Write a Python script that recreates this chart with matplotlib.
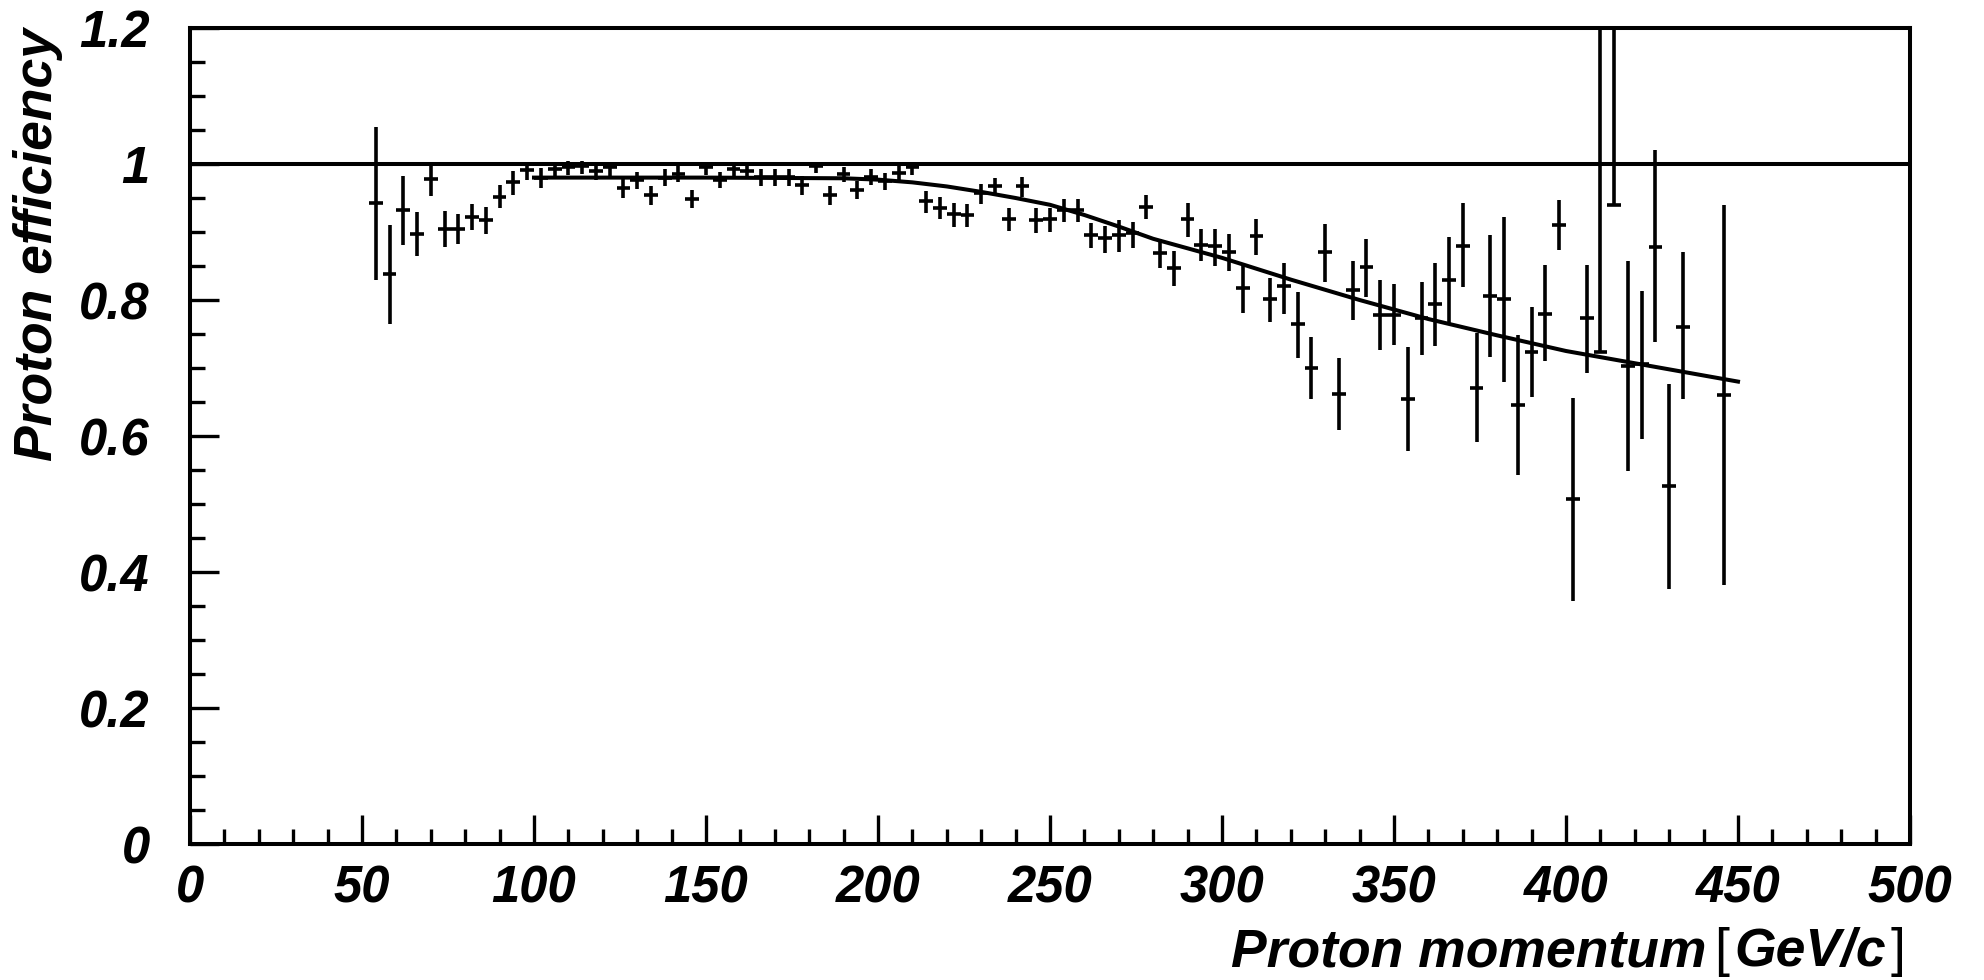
import matplotlib
matplotlib.use("Agg")
import matplotlib.pyplot as plt
from matplotlib.ticker import FixedLocator, MultipleLocator

# ---- measured efficiency per momentum bin (GeV/c) ----
bin_width = 4.0
momentum = [54, 58, 62, 66, 70, 74, 78, 82, 86, 90, 94, 98, 102, 106, 110, 114,
            118, 122, 126, 130, 134, 138, 142, 146, 150, 154, 158, 162, 166, 170,
            174, 178, 182, 186, 190, 194, 198, 202, 206, 210, 214, 218, 222, 226,
            230, 234, 238, 242, 246, 250, 254, 258, 262, 266, 270, 274, 278, 282,
            286, 290, 294, 298, 302, 306, 310, 314, 318, 322, 326, 330, 334, 338,
            342, 346, 350, 354, 358, 362, 366, 370, 374, 378, 382, 386, 390, 394,
            398, 402, 406, 410, 414, 418, 422, 426, 430, 434, 446]
efficiency = [0.942, 0.838, 0.932, 0.897, 0.978, 0.905, 0.905, 0.922, 0.918, 0.952,
              0.973, 0.991, 0.979, 0.992, 0.996, 0.997, 0.989, 0.995, 0.965, 0.976,
              0.954, 0.980, 0.986, 0.949, 0.995, 0.976, 0.992, 0.990, 0.981, 0.981,
              0.981, 0.969, 0.997, 0.954, 0.985, 0.962, 0.981, 0.975, 0.987, 0.995,
              0.945, 0.936, 0.926, 0.925, 0.957, 0.967, 0.919, 0.967, 0.918, 0.919,
              0.932, 0.932, 0.896, 0.891, 0.896, 0.898, 0.937, 0.869, 0.847, 0.919,
              0.881, 0.879, 0.870, 0.818, 0.894, 0.801, 0.820, 0.764, 0.700, 0.870,
              0.662, 0.814, 0.848, 0.778, 0.778, 0.655, 0.773, 0.794, 0.829, 0.880,
              0.671, 0.806, 0.801, 0.645, 0.724, 0.780, 0.911, 0.507, 0.773, 0.724,
              0.939, 0.703, 0.706, 0.878, 0.527, 0.761, 0.660]
err_low = [0.113, 0.074, 0.051, 0.033, 0.025, 0.027, 0.022, 0.019, 0.021, 0.017,
           0.018, 0.014, 0.015, 0.014, 0.012, 0.012, 0.013, 0.012, 0.015, 0.013,
           0.014, 0.012, 0.012, 0.014, 0.011, 0.012, 0.012, 0.012, 0.013, 0.013,
           0.013, 0.014, 0.010, 0.014, 0.012, 0.014, 0.012, 0.013, 0.012, 0.011,
           0.017, 0.017, 0.018, 0.018, 0.016, 0.014, 0.018, 0.016, 0.019, 0.019,
           0.018, 0.018, 0.020, 0.022, 0.025, 0.022, 0.018, 0.022, 0.026, 0.026,
           0.023, 0.029, 0.027, 0.037, 0.028, 0.034, 0.040, 0.050, 0.046, 0.043,
           0.053, 0.043, 0.043, 0.052, 0.044, 0.077, 0.054, 0.062, 0.063, 0.061,
           0.080, 0.090, 0.122, 0.103, 0.066, 0.069, 0.038, 0.150, 0.081, 0.000,
           0.000, 0.154, 0.110, 0.140, 0.152, 0.107, 0.279]
err_high = [0.112, 0.072, 0.051, 0.033, 0.024, 0.026, 0.021, 0.019, 0.019, 0.017,
            0.016, 0.012, 0.015, 0.011, 0.008, 0.007, 0.011, 0.008, 0.013, 0.012,
            0.013, 0.012, 0.011, 0.013, 0.005, 0.012, 0.008, 0.009, 0.012, 0.012,
            0.012, 0.013, 0.003, 0.013, 0.011, 0.013, 0.011, 0.012, 0.010, 0.005,
            0.015, 0.015, 0.016, 0.016, 0.014, 0.013, 0.016, 0.014, 0.017, 0.016,
            0.016, 0.016, 0.017, 0.018, 0.022, 0.017, 0.017, 0.020, 0.025, 0.024,
            0.023, 0.026, 0.027, 0.035, 0.025, 0.032, 0.035, 0.048, 0.046, 0.042,
            0.052, 0.043, 0.042, 0.051, 0.046, 0.076, 0.054, 0.060, 0.063, 0.063,
            0.081, 0.090, 0.121, 0.103, 0.065, 0.071, 0.036, 0.149, 0.078, 0.600,
            0.400, 0.154, 0.107, 0.142, 0.150, 0.109, 0.279]

# ---- fitted efficiency curve ----
fit_momentum = [100, 150, 190, 200, 210, 220, 230, 240, 250, 260, 270, 280, 290,
                300, 320, 340, 360, 380, 400, 420, 450]
fit_efficiency = [0.980, 0.980, 0.979, 0.977, 0.973, 0.967, 0.959, 0.950, 0.940,
                  0.925, 0.908, 0.890, 0.876, 0.862, 0.830, 0.800, 0.772, 0.748,
                  0.725, 0.707, 0.680]

x_ticks = [0, 50, 100, 150, 200, 250, 300, 350, 400, 450, 500]
x_tick_labels = ["0", "50", "100", "150", "200", "250", "300", "350", "400", "450", "500"]
y_ticks = [0, 0.2, 0.4, 0.6, 0.8, 1.0, 1.2]
y_tick_labels = ["0", "0.2", "0.4", "0.6", "0.8", "1", "1.2"]

FONT = "Liberation Sans"
FS = 36.5
FS_TITLE = 38.5
W, H = 1984, 980

fig = plt.figure(figsize=(W / 100, H / 100), dpi=100)
ax = fig.add_axes([190 / W, 136 / H, 1720 / W, 816 / H])
ax.set_xlim(0, 500)
ax.set_ylim(0, 1.2)

ax.axhline(1.0, color="black", lw=2.9, zorder=2)
ax.plot(fit_momentum, fit_efficiency, color="black", lw=2.9, zorder=2)
ax.errorbar(momentum, efficiency, xerr=bin_width / 2, yerr=[err_low, err_high],
            fmt="none", ecolor="black", elinewidth=2.6, capsize=0, zorder=3)

for s in ax.spines.values():
    s.set_linewidth(2.9)

ax.xaxis.set_major_locator(FixedLocator(x_ticks))
ax.xaxis.set_minor_locator(MultipleLocator(10))
ax.yaxis.set_major_locator(FixedLocator(y_ticks))
ax.yaxis.set_minor_locator(MultipleLocator(0.05))
ax.set_xticklabels(x_tick_labels)
ax.set_yticklabels(y_tick_labels)
ax.tick_params(which="both", direction="in", top=False, right=False, width=2.4)
ax.tick_params(which="major", length=21)
ax.tick_params(which="minor", length=10.5)
ax.tick_params(axis="x", which="major", pad=15)
ax.tick_params(axis="y", which="major", pad=29)
for lab in ax.get_xticklabels() + ax.get_yticklabels():
    lab.set_fontfamily(FONT)
    lab.set_fontsize(FS)
    lab.set_fontweight("bold")
    lab.set_fontstyle("italic")

# y-axis title, aligned to the top end of the axis
fig.text(13 / W, 1 - 28 / H, "Proton efficiency", rotation=90, ha="left", va="top",
         family=FONT, fontsize=FS_TITLE, fontweight="bold", fontstyle="italic")

# x-axis title built right to left so the brackets can stay upright and thin
fig.canvas.draw()
renderer = fig.canvas.get_renderer()
pieces = [("]", "normal", "normal", 0),
          ("GeV/c", "bold", "italic", 4),
          ("[", "normal", "normal", 6),
          ("Proton momentum", "bold", "italic", 7)]
x_right = 1905
baseline = H - 966
for txt, weight, style, gap in pieces:
    x_right -= gap
    t = fig.text(x_right / W, baseline / H, txt, ha="right", va="baseline",
                 family=FONT, fontsize=FS_TITLE, fontweight=weight, fontstyle=style)
    bb = t.get_window_extent(renderer)
    x_right -= bb.width

fig.savefig("out.png", dpi=100)
